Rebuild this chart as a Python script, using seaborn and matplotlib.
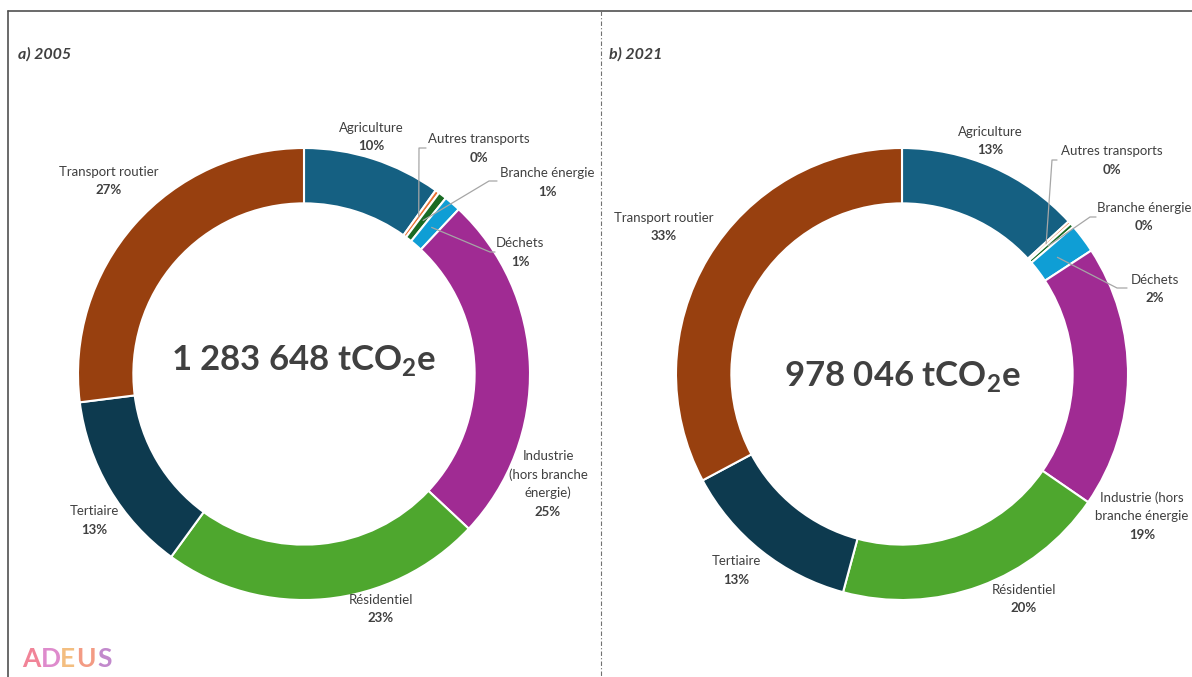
import numpy as np
import matplotlib
matplotlib.use("Agg")
import matplotlib.pyplot as plt
from matplotlib.lines import Line2D
import seaborn as sns

# ---------------- data ----------------
sectors = ["Agriculture", "Autres transports", "Branche énergie", "Déchets",
           "Industrie\n(hors branche\nénergie)", "Résidentiel", "Tertiaire", "Transport routier"]
sectors_2021 = ["Agriculture", "Autres transports", "Branche énergie", "Déchets",
                "Industrie (hors\nbranche énergie", "Résidentiel", "Tertiaire", "Transport routier"]
share_2005 = [9.9, 0.3, 0.6, 1.2, 25.0, 23.0, 13.0, 27.0]
share_2021 = [13.2, 0.2, 0.3, 2.1, 18.8, 19.6, 13.0, 32.8]
total_2005 = "1 283 648"
total_2021 = "978 046"
titles = ["a) 2005", "b) 2021"]

colors = ["#156082", "#E97132", "#196B24", "#0F9ED5",
          "#A02B93", "#4EA72E", "#0D3A4F", "#98400F"]

# ---------------- layout (pixels) ----------------
W, H = 1192, 677
R = 226
centers = [(304, 374), (902, 374)]
# text centre (x, y of first line) for each sector
label_pos = [
    [(371, 128), (479, 139), (547, 173), (520, 243), (548, 456), (381, 600), (94, 511), (109, 172)],
    [(990, 132), (1112, 151), (1144, 208), (1155, 280), (1142, 498), (1024, 590), (736, 561), (664, 218)],
]
# leader lines: sector index -> (elbow_x, elbow_y, end_x)
leaders = [
    {1: (419, 148, 426), 2: (489, 181, 497), 3: (490, 252, 495)},
    {1: (1052, 160, 1057), 2: (1090, 217, 1096), 3: (1117, 288, 1127)},
]
center_text_y = [360, 377]
line_h = 18.5

sns.set_theme(style="white")
plt.rcParams["font.family"] = ["Lato", "DejaVu Sans"]
plt.rcParams["mathtext.fontset"] = "custom"
plt.rcParams["mathtext.bf"] = "Lato:bold"
plt.rcParams["mathtext.rm"] = "Lato"

sns.set_palette(colors)
txt_col = "#404040"

fig = plt.figure(figsize=(W / 100, H / 100), dpi=100)
fig.patch.set_facecolor("white")


def fx(px):
    return px / W


def fy(py):
    return 1 - py / H


shares = [share_2005, share_2021]
names = [sectors, sectors_2021]
totals = [total_2005, total_2021]

for k in range(2):
    cx, cy = centers[k]
    ax = fig.add_axes([fx(cx - R), fy(cy + R), 2 * R / W, 2 * R / H])
    vals = shares[k]
    wedges, _ = ax.pie(vals, colors=sns.color_palette(colors), startangle=90, counterclock=False,
                       radius=1.0, wedgeprops=dict(width=0.245, edgecolor="white", linewidth=1.5))
    ax.set_xlim(-1, 1)
    ax.set_ylim(-1, 1)
    ax.set_aspect("equal")
    ax.axis("off")

    tot = sum(vals)
    cum = np.cumsum([0] + vals[:-1])
    for i, v in enumerate(vals):
        pct = f"{round(v / tot * 100):.0f}%"
        tx, ty = label_pos[k][i]
        lines = names[k][i].split("\n")
        for j, ln in enumerate(lines):
            fig.text(fx(tx), fy(ty + j * line_h), ln, ha="center", va="center",
                     fontsize=9.5, color=txt_col)
        fig.text(fx(tx), fy(ty + len(lines) * line_h), pct, ha="center", va="center",
                 fontsize=9.5, color=txt_col, fontweight="bold")
        if i in leaders[k]:
            ex, ey, endx = leaders[k][i]
            ang = np.deg2rad(90 - (cum[i] + v / 2) / tot * 360)
            r = 0.86
            ax_x, ax_y = r * np.cos(ang), r * np.sin(ang)
            apx = cx + ax_x * R
            apy = cy - ax_y * R
            fig.add_artist(Line2D([fx(apx), fx(ex), fx(endx)], [fy(apy), fy(ey), fy(ey)],
                                  color="#a6a6a6", lw=0.9))

    ax.text(0, (cy - center_text_y[k]) / R, totals[k] + r" tCO$_\mathbf{2}$e",
            ha="center", va="center", fontsize=25, fontweight="bold", color=txt_col)

    fig.text(fx([18, 609][k]), fy(54), titles[k], ha="left", va="center", fontsize=11.5,
             fontstyle="italic", fontweight="bold", color=txt_col)

# frame and divider
fig.add_artist(Line2D([fx(8), fx(8)], [fy(11), 0], color="#505050", lw=1.2))
fig.add_artist(Line2D([fx(8), 1], [fy(11), fy(11)], color="#505050", lw=1.2))
fig.add_artist(Line2D([fx(601), fx(601)], [fy(11), 0], color="#707070", lw=0.8,
                      linestyle=(0, (4, 2, 1, 2))))

# ADEUS logo
logo = [("A", 22, "#ef6f86"), ("D", 41, "#d977c4"), ("E", 60, "#f2b36a"),
        ("U", 76, "#f28a6e"), ("S", 97, "#b874c4")]
for ch, x, c in logo:
    fig.text(fx(x), fy(659), ch, ha="left", va="center", fontsize=19, fontweight="bold",
             color=c, alpha=0.85)

fig.savefig("out.png", dpi=100, facecolor="white")
